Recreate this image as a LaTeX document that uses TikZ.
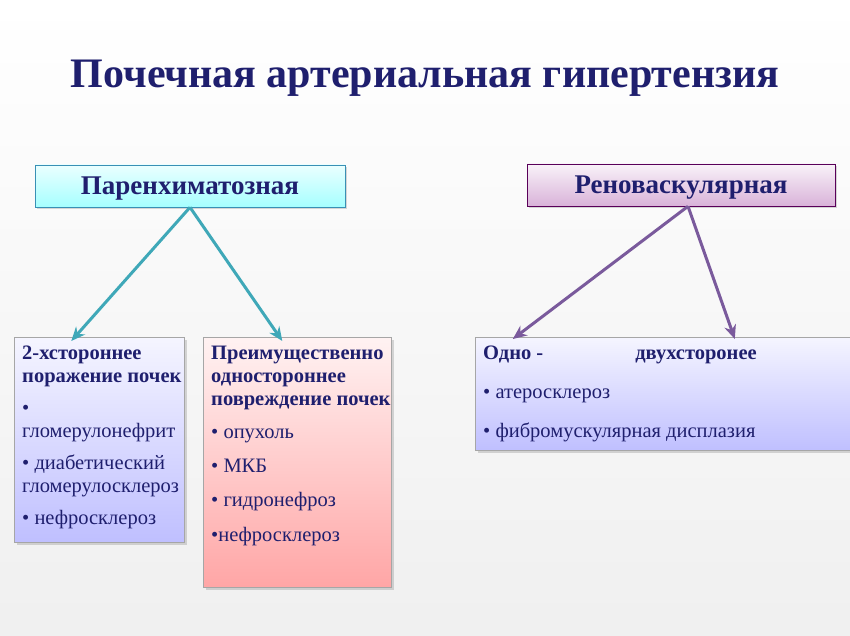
\documentclass[tikz,border=0pt]{standalone}
\usepackage{fontspec}
\setmainfont{Liberation Serif}
\usetikzlibrary{arrows.meta,shadows}
\definecolor{navy}{HTML}{1F1F6E}
\definecolor{teal1}{HTML}{3FA8B8}
\definecolor{purp1}{HTML}{7A5A9C}
\tikzset{
 hdr/.style={draw=#1!70!black,line width=0.6pt,minimum height=42pt,text height=18pt,text depth=0pt,font=\fontsize{27}{30}\selectfont\bfseries,text=navy,drop shadow={opacity=0.3}},
 boxx/.style={draw=gray!70,line width=0.6pt,anchor=north west,inner sep=0pt,drop shadow={opacity=0.3}},
 txt/.style={anchor=north west,align=left,inner sep=0pt,font=\fontsize{20.5}{23}\selectfont,text=navy},
 con/.style={line width=3pt,-{Stealth[length=14pt,width=12pt]}}
}
\begin{document}
\begin{tikzpicture}[x=1pt,y=-1pt]
\useasboundingbox[top color=white,bottom color=gray!12] (0,0) rectangle (850,636);
\node[font=\fontsize{42}{46}\selectfont\bfseries,text=navy] (t) at (425,78) {Почечная артериальная гипертензия};
\node[hdr=cyan,top color=cyan!8,bottom color=cyan!35,minimum width=310pt] (p) at (190,186) {Паренхиматозная};
\node[hdr=violet,top color=violet!5,bottom color=violet!30,minimum width=308pt] (r) at (681,185) {Реноваскулярная};
\node[boxx,top color=blue!4,bottom color=blue!25,minimum width=170pt,minimum height=205pt] (a) at (14,337) {};
\node[boxx,top color=red!5,bottom color=red!35,minimum width=188pt,minimum height=250pt] (b) at (203,337) {};
\node[boxx,top color=blue!4,bottom color=blue!25,minimum width=375pt,minimum height=113pt] (c) at (475,337) {};
\node[txt] (at) at (22,346) {\textbf{2-хстороннее}\\\textbf{поражение почек}\\[9pt]•\\гломерулонефрит\\[9pt]• диабетический\\гломерулосклероз\\[9pt]• нефросклероз};
\node[txt] (bt) at (211,346) {\textbf{Преимущественно}\\\textbf{одностороннее}\\\textbf{повреждение почек}\\[10pt]• опухоль\\[11pt]• МКБ\\[11pt]• гидронефроз\\[12pt]•нефросклероз};
\node[txt] (ct) at (483,346) {\textbf{Одно -}\hspace{92pt}\textbf{двухсторонее}\\[16pt]• атеросклероз\\[16pt]• фибромускулярная дисплазия};
\draw[con,teal1] (p.south) -- ([xshift=-28pt,yshift=-4pt]a.north);
\draw[con,teal1] (p.south) -- ([xshift=-15pt,yshift=-4pt]b.north);
\draw[con,purp1] ([xshift=7pt]r.south) -- ([xshift=-150pt,yshift=-2pt]c.north);
\draw[con,purp1] ([xshift=7pt]r.south) -- ([xshift=72pt,yshift=-2pt]c.north);
\end{tikzpicture}
\end{document}
